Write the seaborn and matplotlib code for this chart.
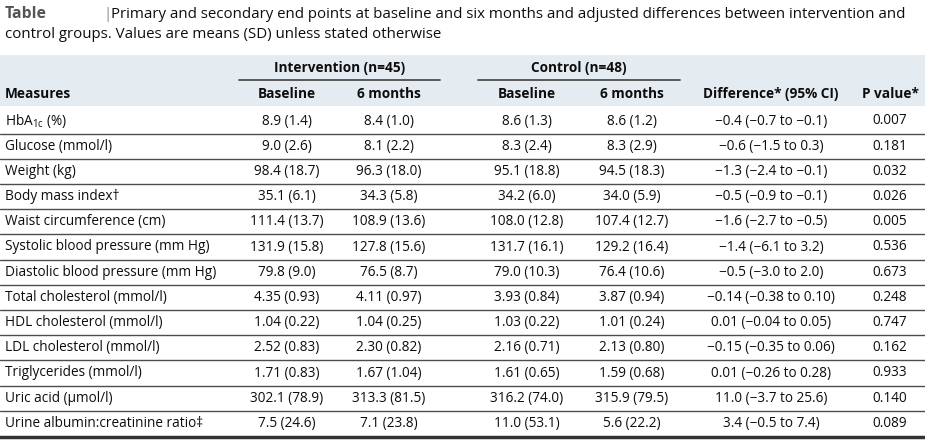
import matplotlib
matplotlib.use("Agg")
import matplotlib.pyplot as plt
import seaborn as sns

sns.set_theme(style="white")
FONT = 'Open Sans'
plt.rcParams['font.family'] = [FONT, 'DejaVu Sans']
plt.rcParams['mathtext.fontset'] = 'custom'
plt.rcParams['mathtext.rm'] = FONT
plt.rcParams['mathtext.it'] = FONT

title_label = "Table"
title_line1 = "Primary and secondary end points at baseline and six months and adjusted differences between intervention and"
title_line2 = "control groups. Values are means (SD) unless stated otherwise"

groups = ["Intervention (n=45)", "Control (n=48)"]
sub_headers = ["Baseline", "6 months", "Baseline", "6 months", "Difference* (95% CI)", "P value*"]

measures = [
    "HbA$_{1c}$ (%)", "Glucose (mmol/l)", "Weight (kg)", "Body mass index\u2020",
    "Waist circumference (cm)", "Systolic blood pressure (mm Hg)",
    "Diastolic blood pressure (mm Hg)", "Total cholesterol (mmol/l)",
    "HDL cholesterol (mmol/l)", "LDL cholesterol (mmol/l)", "Triglycerides (mmol/l)",
    "Uric acid (\u03bcmol/l)", "Urine albumin:creatinine ratio\u2021",
]
int_baseline = ["8.9 (1.4)", "9.0 (2.6)", "98.4 (18.7)", "35.1 (6.1)", "111.4 (13.7)", "131.9 (15.8)",
                "79.8 (9.0)", "4.35 (0.93)", "1.04 (0.22)", "2.52 (0.83)", "1.71 (0.83)", "302.1 (78.9)", "7.5 (24.6)"]
int_6m = ["8.4 (1.0)", "8.1 (2.2)", "96.3 (18.0)", "34.3 (5.8)", "108.9 (13.6)", "127.8 (15.6)",
          "76.5 (8.7)", "4.11 (0.97)", "1.04 (0.25)", "2.30 (0.82)", "1.67 (1.04)", "313.3 (81.5)", "7.1 (23.8)"]
ctl_baseline = ["8.6 (1.3)", "8.3 (2.4)", "95.1 (18.8)", "34.2 (6.0)", "108.0 (12.8)", "131.7 (16.1)",
                "79.0 (10.3)", "3.93 (0.84)", "1.03 (0.22)", "2.16 (0.71)", "1.61 (0.65)", "316.2 (74.0)", "11.0 (53.1)"]
ctl_6m = ["8.6 (1.2)", "8.3 (2.9)", "94.5 (18.3)", "34.0 (5.9)", "107.4 (12.7)", "129.2 (16.4)",
          "76.4 (10.6)", "3.87 (0.94)", "1.01 (0.24)", "2.13 (0.80)", "1.59 (0.68)", "315.9 (79.5)", "5.6 (22.2)"]
difference = ["\u22120.4 (\u22120.7 to \u22120.1)", "\u22120.6 (\u22121.5 to 0.3)", "\u22121.3 (\u22122.4 to \u22120.1)",
              "\u22120.5 (\u22120.9 to \u22120.1)", "\u22121.6 (\u22122.7 to \u22120.5)", "\u22121.4 (\u22126.1 to 3.2)",
              "\u22120.5 (\u22123.0 to 2.0)", "\u22120.14 (\u22120.38 to 0.10)", "0.01 (\u22120.04 to 0.05)",
              "\u22120.15 (\u22120.35 to 0.06)", "0.01 (\u22120.26 to 0.28)", "11.0 (\u22123.7 to 25.6)",
              "3.4 (\u22120.5 to 7.4)"]
p_value = ["0.007", "0.181", "0.032", "0.026", "0.005", "0.536", "0.673", "0.248", "0.747",
           "0.162", "0.933", "0.140", "0.089"]

W, H = 925, 441
fig = plt.figure(figsize=(W / 100, H / 100), dpi=100)
ax = fig.add_axes([0, 0, 1, 1])
ax.set_xlim(0, W)
ax.set_ylim(H, 0)
ax.axis("off")

fs = 9.8
tfs = 10.8
txt = "#0d0d0d"
line_c = "#4d4d4d"

# Title
ax.text(5, 14, title_label, fontsize=11.3, fontweight="bold", color="#555555", va="center", ha="left")
ax.text(103, 14, "|", fontsize=tfs, color="#888888", va="center", ha="left")
ax.text(111, 14, title_line1, fontsize=tfs, color=txt, va="center", ha="left")
ax.text(5, 35, title_line2, fontsize=tfs, color=txt, va="center", ha="left")

# Header band
ax.add_patch(plt.Rectangle((0, 55), W, 51, color="#e4ebf1", lw=0, zorder=0))

col_x = [287, 389, 527, 632, 771, 890]
group_spans = [(239, 440), (478, 680)]
for g, (x0, x1) in zip(groups, group_spans):
    ax.text((x0 + x1) / 2, 68, g, fontsize=fs, fontweight="bold", color=txt, ha="center", va="center")
    ax.plot([x0, x1], [80, 80], color=line_c, lw=1.3)
ax.text(5, 94, "Measures", fontsize=fs, fontweight="bold", color=txt, ha="left", va="center")
for x, h in zip(col_x, sub_headers):
    ax.text(x, 94, h, fontsize=fs, fontweight="bold", color=txt, ha="center", va="center")

row_top = 108.4
row_h = 25.2
cols = [int_baseline, int_6m, ctl_baseline, ctl_6m, difference, p_value]
for i, m in enumerate(measures):
    yc = row_top + row_h * (i + 0.5)
    ax.text(5, yc, m, fontsize=fs, color=txt, ha="left", va="center")
    for x, col in zip(col_x, cols):
        ax.text(x, yc, col[i], fontsize=fs, color=txt, ha="center", va="center")
    yb = row_top + row_h * (i + 1)
    if i < len(measures) - 1:
        ax.plot([0, W], [yb, yb], color=line_c, lw=1.0)
    else:
        ax.plot([0, W], [yb + 1, yb + 1], color="#333333", lw=2.5)

fig.savefig("out.png", dpi=100)
